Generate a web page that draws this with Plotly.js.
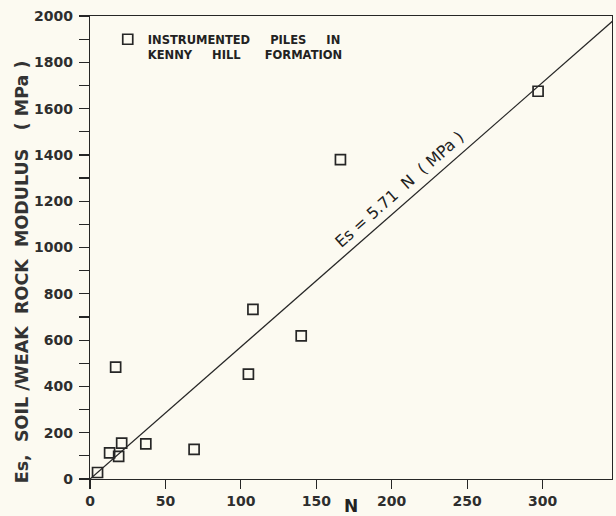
<!DOCTYPE html>
<html>
<head>
<meta charset="utf-8">
<script src="https://cdn.plot.ly/plotly-3.0.1.min.js"></script>
<style>
  html, body { margin: 0; padding: 0; background: #fcfaf1; }
  #chart { width: 616px; height: 516px; }
</style>
</head>
<body>
<div id="chart"></div>
<script>
// Measured data: SPT N vs soil / weak rock modulus Es (MPa)
const pileN  = [5, 13, 19, 21, 17, 37, 69, 105, 108, 140, 166, 297];
const pileEs = [28, 113, 98, 155, 483, 152, 128, 453, 733, 618, 1380, 1675];
const sp = n => '\u00a0'.repeat(n);
const seriesName = 'INSTRUMENTED' + sp(5) + 'PILES' + sp(5) + 'IN<br>KENNY' + sp(5) + 'HILL' + sp(6) + 'FORMATION';

// Fitted relation Es = 5.71 N
const fitSlope = 5.71;
const fitN = [0, 360];
const fitEs = fitN.map(n => fitSlope * n);
const fitLabel = 'Es' + sp(1) + '=' + sp(1) + '5.71' + sp(2) + 'N' + sp(2) + '(' + sp(1) + 'MPa' + sp(1) + ')';

// Axis ticks
const xTickVals = [0, 50, 100, 150, 200, 250, 300];
const yTickVals = [0, 200, 400, 600, 800, 1000, 1200, 1400, 1600, 1800, 2000];
const yTickText = ['0', '200', '400', '600', '800', '1000', '1200', '1400', '1600', '1800', '2000'];
const yTitle = 'Es,' + sp(2) + 'SOIL' + sp(1) + '/WEAK' + sp(2) + 'ROCK' + sp(2) + 'MODULUS' + sp(3) + '(' + sp(1) + 'MPa' + sp(1) + ')';

const ink = '#262626';
const bg = '#fcfaf1';
const tickFont = { family: 'DejaVu Sans', size: 14, color: '#2e2e2e', weight: 'bold' };

const traces = [
  {
    x: fitN, y: fitEs, mode: 'lines', type: 'scatter',
    line: { color: ink, width: 1.3 },
    showlegend: false, hoverinfo: 'skip'
  },
  {
    x: pileN, y: pileEs, mode: 'markers', type: 'scatter',
    name: seriesName,
    marker: { symbol: 'square-open', size: 10, color: ink, line: { width: 1.7, color: ink } },
    cliponaxis: false
  }
];

const layout = {
  width: 616, height: 516,
  margin: { l: 90, r: 4, t: 16, b: 37, pad: 0 },
  paper_bgcolor: bg, plot_bgcolor: bg,
  font: { family: 'DejaVu Sans', color: ink },
  showlegend: true,
  legend: {
    x: 0.034, y: 0.98, xanchor: 'left', yanchor: 'top',
    bgcolor: 'rgba(0,0,0,0)', borderwidth: 0,
    font: { family: 'DejaVu Sans', size: 11.5, color: '#222', weight: 'bold' },
    valign: 'top', itemclick: false
  },
  xaxis: {
    range: [0, 346], showgrid: false, zeroline: false,
    showline: true, mirror: true, linecolor: ink, linewidth: 1.3,
    tickmode: 'array', tickvals: xTickVals,
    ticks: 'outside', ticklen: 9, tickwidth: 1.2, tickcolor: ink,
    tickfont: tickFont,
    title: { text: 'N', font: { family: 'DejaVu Sans', size: 17, color: '#222', weight: 'bold' }, standoff: 2 },
    automargin: false
  },
  yaxis: {
    range: [0, 2000], showgrid: false, zeroline: false,
    showline: true, mirror: true, linecolor: ink, linewidth: 1.3,
    tickmode: 'array', tickvals: yTickVals, ticktext: yTickText,
    ticks: 'outside', ticklen: 10, tickwidth: 1.2, tickcolor: ink,
    minor: { dtick: 100, ticks: 'outside', ticklen: 10, tickwidth: 1.2, tickcolor: ink, showgrid: false },
    tickfont: tickFont, ticklabelstandoff: 3,
    automargin: false
  },
  annotations: [
    {
      x: 205, y: 1250, xref: 'x', yref: 'y',
      text: fitLabel, showarrow: false, textangle: -41.5,
      xanchor: 'center', yanchor: 'middle',
      font: { family: 'DejaVu Sans', size: 16, color: '#222' }
    },
    {
      x: -0.1303, y: 0.4486, xref: 'paper', yref: 'paper',
      text: yTitle, showarrow: false, textangle: -90,
      xanchor: 'center', yanchor: 'middle',
      font: { family: 'DejaVu Sans', size: 17.5, color: '#333', weight: 'bold' }
    }
  ]
};

Plotly.newPlot('chart', traces, layout, { staticPlot: true, displayModeBar: false });
</script>
</body>
</html>
